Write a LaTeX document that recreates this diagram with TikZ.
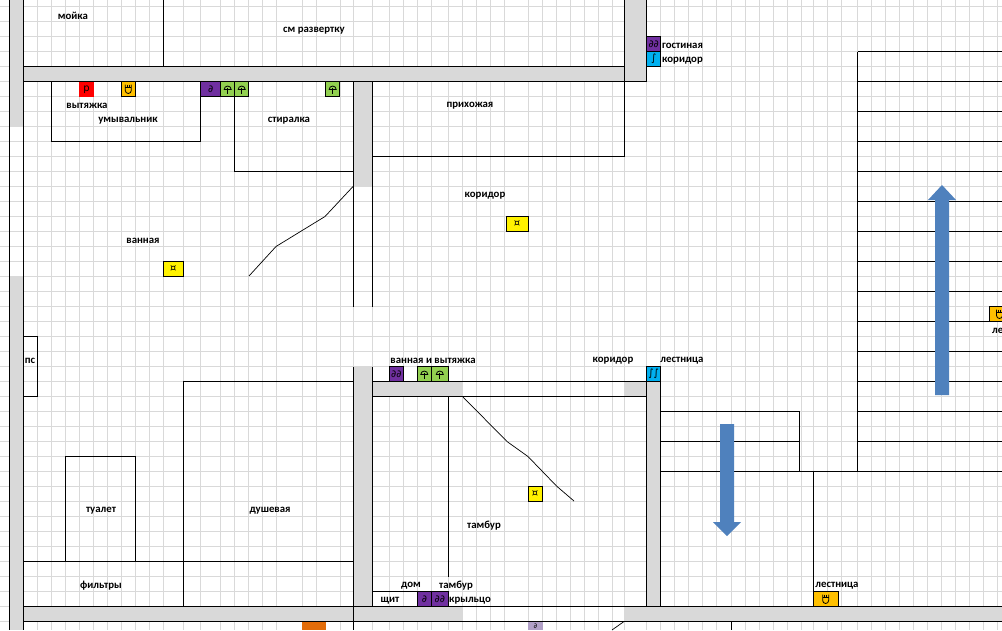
\documentclass[tikz,border=0pt]{standalone}
\usepackage{fontspec}
\setmainfont{Carlito}
\newfontfamily\symfont{DejaVu Sans}

\definecolor{wallgray}{HTML}{D9D9D9}
\definecolor{plugorange}{HTML}{FFC000}
\definecolor{treegreen}{HTML}{92D050}
\definecolor{switchviolet}{HTML}{7030A0}
\definecolor{passblue}{HTML}{00B0F0}
\definecolor{flowblue}{HTML}{4F81BD}
\definecolor{boxorange}{HTML}{E36C09}
\definecolor{boxviolet}{HTML}{B1A0C7}

\tikzset{
  wall/.style={fill=wallgray, draw=none},
  edge/.style={line width=1.1pt, black},
  door/.style={line width=0.7pt, black},
  label/.style={font=\fontsize{10.8}{11}\selectfont\bfseries, inner sep=0pt, anchor=center},
  cell/.style={draw=black, line width=0.9pt, inner sep=0pt, font=\fontsize{10}{10}\selectfont\symfont},
  flow/.style={fill=flowblue, draw=none},
  plughead/.pic={
    \draw [line width=0.8pt] (-3,-4.5) -- (-3,1.5) arc [start angle=180, end angle=0, radius=3] -- (3,-4.5);
    \draw [line width=0.8pt] (-3,-1.5) -- (3,-1.5);
    \draw [line width=0.8pt] (-1,-4.5) -- (-1,-1.5) (1,-4.5) -- (1,-1.5);
  },
  treehead/.pic={
    \draw [line width=0.8pt] (0,-1) -- (0,4.5);
    \draw [line width=0.8pt] (-3.5,0.5) arc [start angle=180, end angle=360, radius=3.5] -- cycle;
  }
}

\begin{document}
\begin{tikzpicture}[x=1pt, y=-1pt, >=stealth]

  \useasboundingbox (0,0) rectangle (1002,630);
  \clip (0,0) rectangle (1002,630);
  \fill [white] (0,0) rectangle (1002,630);

  % sheet grid
  \foreach \x in {9,23,37,51,65,79,93,107,121,135,149,163,183,200,220,234,248,262,276,302,316,340,353,372,389,403,417,431,448,462,476,490,504,528,542,556,570,584,598,612,624,646,660,674,688,702,716,731,745,759,773,787,801,813,827,841,857,871,885,899,913,927,941,955,969,983,997}
    \draw [wallgray, line width=1pt] (\x,0) -- (\x,630);
  \foreach \y in {0,...,41}
    \draw [wallgray, line width=1pt] (0,6.5+\y*15) -- (1002,6.5+\y*15);

  % walls
  \fill [wall] (9,0) rectangle (23,126);
  \fill [wall] (9,276) rectangle (23,630);
  \fill [wall] (23,66.5) rectangle (646,81.5);
  \fill [wall] (624.5,0) rectangle (646.5,66.5);
  \fill [wall] (353.5,81.5) rectangle (372.5,186);
  \fill [wall] (353.5,366.5) rectangle (372.5,606.5);
  \fill [wall] (372.5,381.5) rectangle (462.5,396.5);
  \fill [wall] (624.5,381.5) rectangle (646.5,396.5);
  \fill [wall] (646.5,381.5) rectangle (660.5,606.5);
  \fill [wall] (23,606.5) rectangle (462.5,621.5);
  \fill [wall] (624.5,606.5) rectangle (1002,621.5);

  % wall edges
  \draw [edge] (9.3,0) -- (9.3,630);
  \draw [edge] (23.3,0) -- (23.3,630);
  \draw [edge] (23,66.5) -- (624.5,66.5);
  \draw [edge] (23,81.5) -- (646.5,81.5);
  \draw [edge] (624.5,0) -- (624.5,156.5) -- (372.5,156.5);
  \draw [edge] (646.5,0) -- (646.5,81.5);
  \draw [edge] (353.5,81.5) -- (353.5,306.5);
  \draw [edge] (372.5,81.5) -- (372.5,306.5);
  \draw [edge] (353.5,366.5) -- (353.5,630);
  \draw [edge] (372.5,366.5) -- (372.5,606.5);
  \draw [edge] (372.5,381.5) -- (646.5,381.5);
  \draw [edge] (372.5,396.5) -- (646.5,396.5);
  \draw [edge] (646.5,366.5) -- (646.5,606.5);
  \draw [edge] (660.5,381.5) -- (660.5,606.5);
  \draw [edge] (23,606.5) -- (1002,606.5);
  \draw [edge] (23,621.5) -- (1002,621.5);

  % rooms
  \draw [edge] (163.3,0) -- (163.3,66.5);
  \draw [edge] (51.3,81.5) -- (51.3,141.5) -- (200.5,141.5) -- (200.5,96.5);
  \draw [edge] (234.5,96.5) -- (234.5,171.5) -- (353.5,171.5);
  \draw [edge] (23,336.5) -- (37.5,336.5) -- (37.5,396.5) -- (23,396.5);
  \draw [edge] (353.5,381.5) -- (183.5,381.5) -- (183.5,606.5);
  \draw [edge] (23,561.5) -- (353.5,561.5);
  \draw [edge] (65.5,561.5) -- (65.5,456.5) -- (135.5,456.5) -- (135.5,561.5);
  \draw [edge] (448.5,396.5) -- (448.5,576.5);
  \draw [edge] (372.5,591.5) -- (417.5,591.5);
  \draw [edge] (731.5,621.5) -- (731.5,630);
  \draw [door] (624,621.5) -- (612,630);

  % stairs
  \draw [edge] (660.5,411.5) -- (799.5,411.5) -- (799.5,471.5);
  \draw [edge] (660.5,441.5) -- (799.5,441.5);
  \draw [edge] (660.5,471.5) -- (1002,471.5);
  \draw [edge] (813.5,471.5) -- (813.5,606.5);
  \draw [edge] (857.5,51.5) -- (857.5,471.5);
  \foreach \y in {0,...,13}
    \draw [edge] (857.5,51.5+\y*30) -- (1002,51.5+\y*30);

  % door swings
  \draw [door] (353.5,186) -- (325,216.5) -- (276,246.5) -- (249,276);
  \draw [door] (463,397) -- (507,441.5) -- (528,456.5) -- (556.5,486) -- (574,501);

  % arrows
  \fill [flow] (935,395) -- (935,200) -- (928,200) -- (942,185) -- (956,200) -- (949,200) -- (949,395) -- cycle;
  \fill [flow] (720,424) -- (720,522) -- (713,522) -- (727,536) -- (741,522) -- (734,522) -- (734,424) -- cycle;

  % outlets
  \fill [red] (79.3,81.5) rectangle (94,96.5);
  \node [font=\fontsize{10}{10}\selectfont\symfont, inner sep=0pt] (vent-out) at (86.6,90) {р};
  \foreach \n/\a/\b/\y in {a/121.3/135.3/81.5, b/813.3/838/591.5, c/989/1010/306.5} {
    \node [cell, fill=plugorange, minimum width=\b pt-\a pt, minimum height=15pt] (plug-\n) at ({(\a+\b)/2},\y+7.5) {};
    \pic at ({(\a+\b)/2},\y+7.5) {plughead};
  }
  \foreach \n/\a/\b/\y in {a/220.7/234.7/81.5, b/234.7/248.7/81.5, c/325.7/339.7/81.5, d/417.3/431.3/366.5, e/431.3/448.3/366.5} {
    \node [cell, fill=treegreen, minimum width=\b pt-\a pt, minimum height=15pt] (tree-\n) at ({(\a+\b)/2},\y+7.5) {};
    \pic at ({(\a+\b)/2},\y+7.5) {treehead};
  }
  \foreach \n/\a/\b/\y/\t in {a/200.7/220.7/81.5/∂, b/646.7/660.7/36.5/∂∂, c/389.3/403.3/366.5/∂∂, d/417.5/431.5/591.5/∂, e/431.5/448.3/591.5/∂∂}
    \node [cell, fill=switchviolet, minimum width=\b pt-\a pt, minimum height=15pt] (switch-\n) at ({(\a+\b)/2},\y+7.5) {\t};
  \foreach \n/\a/\b/\y/\t in {a/646.7/660.7/51.5/∫, b/646.7/660.7/366.5/∫∫}
    \node [cell, fill=passblue, minimum width=\b pt-\a pt, minimum height=15pt] (pass-\n) at ({(\a+\b)/2},\y+7.5) {\t};
  \foreach \n/\a/\b/\y in {a/506/528/216.5, b/163/183.5/261.5, c/528/542/486.5}
    \node [cell, fill=yellow, minimum width=\b pt-\a pt, minimum height=15pt] (lamp-\n) at ({(\a+\b)/2},\y+7.5) {¤};
  \fill [boxorange] (301.5,622) rectangle (326,630);
  \fill [boxviolet] (528,622) rectangle (543,630);
  \node [font=\fontsize{7}{7}\selectfont\symfont, inner sep=0pt] (switch-low) at (535.5,626.5) {∂};

  % room names
  \foreach \n/\x/\y/\t in {sink/73/15/мойка, fold/314/30/см развертку, hood/87/105/вытяжка, basin/128/120/умывальник, wash/289/120/стиралка, hall/470/105/прихожая, corr/485/195/коридор, bath/143/240/ванная, ps/30/360/пс, bathhood/433/360/ванная и вытяжка, corrb/613/360/коридор, stair/682/360/лестница, wc/101/510/туалет, shower/270/510/душевая, vest/484/525/тамбур, filters/101/585/фильтры, home/411/585/дом, vestb/456/585/тамбур, board/390/600/щит, porch/470/600/крыльцо, stairb/837/585/лестница, living/682.5/45/гостиная, corrc/682.5/60/коридор}
    \node [label, yshift=-0.8pt] (name-\n) at (\x,\y) {\t};
  \node [label, yshift=-0.8pt, anchor=west] (name-stairc) at (992,330) {ле};

\end{tikzpicture}
\end{document}
